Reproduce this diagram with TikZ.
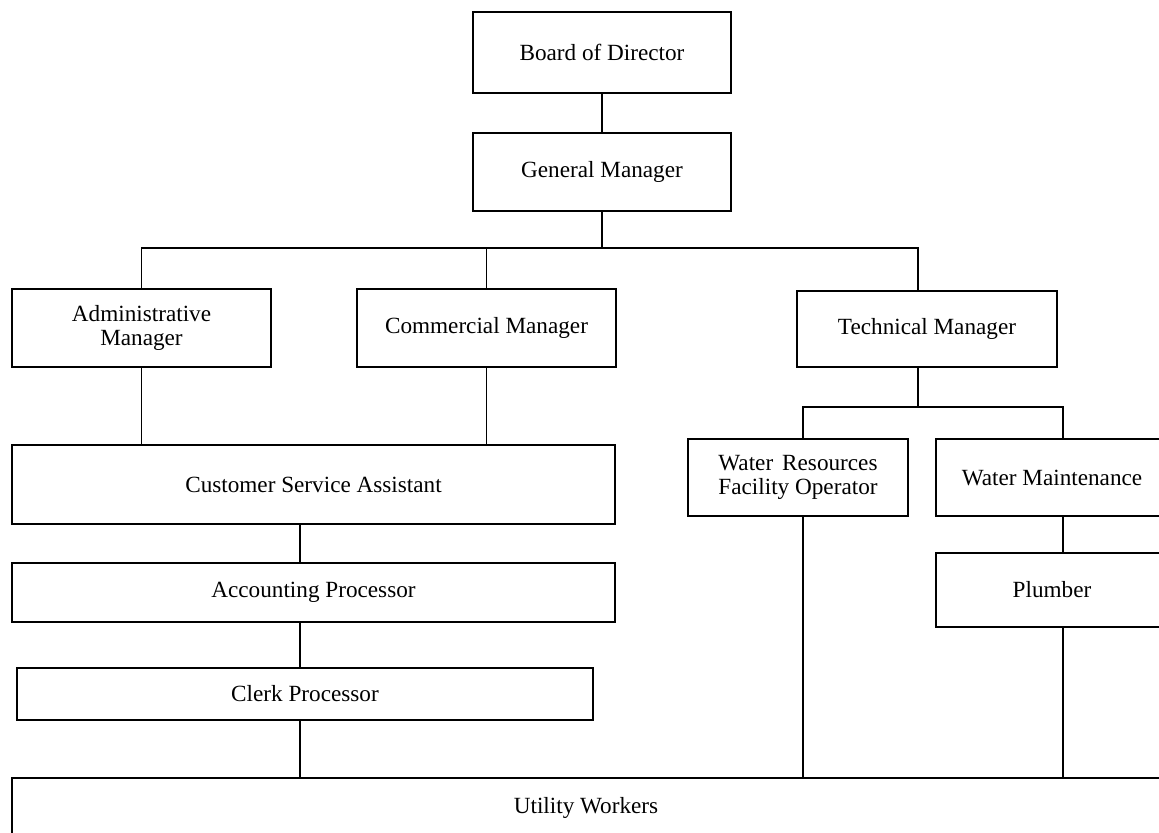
\documentclass[tikz,border=0pt]{standalone}
\usepackage{fontspec}
\setmainfont{Liberation Serif}
\usepackage{calc}
\usepackage{tikz}
\usetikzlibrary{positioning}

\begin{document}
\begin{tikzpicture}[
        every node/.style={font=\fontsize{16.5}{17.5}\selectfont},
        post/.style={draw, line width=1.1pt, align=center, inner sep=2pt},
        link/.style={line width=1.1pt}
    ]
        \useasboundingbox (0,0) rectangle (28.975,-20.8);

        % top of the chart
        \node[post, minimum width=6.45cm, minimum height=2.025cm] (board) at (15.05,-1.3125) {Board of Director};
        \node[post, minimum width=6.45cm, minimum height=1.95cm] (gm) at (15.05,-4.3) {General Manager};

        % managers
        \node[post, minimum width=6.475cm, minimum height=1.95cm] (admin) at (3.5375,-8.2) {Administrative\\Manager};
        \node[post, minimum width=6.475cm, minimum height=1.95cm] (comm) at (12.1625,-8.2) {Commercial Manager};
        \node[post, minimum width=6.5cm, minimum height=1.9cm] (tech) at (23.175,-8.225) {Technical Manager};

        % left column
        \node[post, minimum width=15.075cm, minimum height=1.975cm] (csa) at (7.8375,-12.1125) {Customer Service Assistant};
        \node[post, minimum width=15.075cm, minimum height=1.475cm] (acct) at (7.8375,-14.8125) {Accounting Processor};
        \node[post, minimum width=14.4cm, minimum height=1.3cm] (clerk) at (7.625,-17.35) {Clerk Processor};

        % right column
        \node[post, minimum width=5.5cm, minimum height=1.925cm] (wrfo) at (19.95,-11.9375)
            {\makebox[\widthof{Facility Operator}]{Water\hfill Resources}\\Facility Operator};
        \node[post, minimum width=5.8cm, minimum height=1.925cm] (wmaint) at (26.3,-11.9375) {Water Maintenance};
        \node[post, minimum width=5.8cm, minimum height=1.85cm] (plumb) at (26.3,-14.75) {Plumber};

        \node[post, minimum width=28.7cm, minimum height=1.5cm] (util) at (14.65,-20.2) {Utility Workers};

        % taps and buses
        \coordinate (busA) at (15.05,-6.2);
        \coordinate (techx) at (22.95,-6.2);
        \coordinate (busB) at (22.95,-10.175);
        \coordinate (spine) at (7.5,0);
        \coordinate (wrx) at (20.075,0);
        \coordinate (wmx) at (26.575,0);

        \draw[link] (board) -- (gm);
        \draw[link] (gm) -- (busA);
        \draw[link] (admin.north) |- (busA) -| (techx |- tech.north);
        \draw[link] (comm.north) -- (comm.north |- busA);

        \draw[link] (admin.south) -- (admin.south |- csa.north);
        \draw[link] (comm.south) -- (comm.south |- csa.north);
        \draw[link] (csa.south -| spine) -- (acct.north -| spine);
        \draw[link] (acct.south -| spine) -- (clerk.north -| spine);
        \draw[link] (clerk.south -| spine) -- (util.north -| spine);

        \draw[link] (tech.south -| busB) -- (busB);
        \draw[link] (wrfo.north -| wrx) |- (busB) -| (wmaint.north -| wmx);
        \draw[link] (wmaint.south -| wmx) -- (plumb.north -| wmx);
        \draw[link] (wrfo.south -| wrx) -- (util.north -| wrx);
        \draw[link] (plumb.south -| wmx) -- (util.north -| wmx);
    \end{tikzpicture}
\end{document}
